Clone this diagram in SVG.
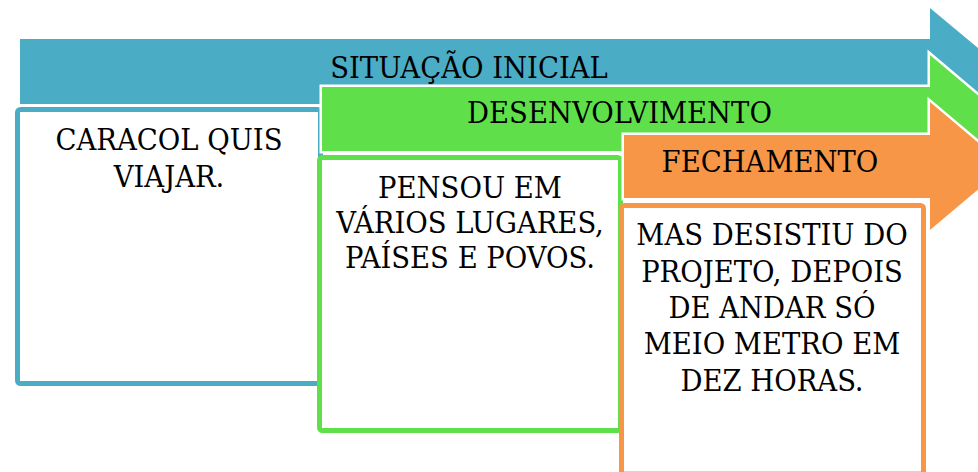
<svg xmlns="http://www.w3.org/2000/svg" width="978" height="472" viewBox="0 0 978 472">
<style>
.arrow{stroke:#fff;stroke-width:5;stroke-linejoin:miter;paint-order:stroke}
.box{fill:#fff;stroke-width:5}
.t{font-family:"DejaVu Serif Condensed","DejaVu Serif",serif;font-stretch:condensed;font-size:30.5px;fill:#000;text-anchor:middle}
</style>
<rect width="978" height="472" fill="#fff"/>
<g id="stage1">
<path class="arrow" fill="#4BACC6" d="M20,39 H930 V8 L1006,71.5 L930,135 V104 H20 Z"/>
<text class="t" x="469" y="78">SITUAÇÃO INICIAL</text>
<rect class="box" stroke="#4BACC6" x="17.5" y="109.5" width="303" height="274" rx="3"/>
<text class="t" x="169" y="150">CARACOL QUIS</text>
<text class="t" x="169" y="187">VIAJAR.</text>
</g>
<g id="stage2">
<path class="arrow" fill="#5FE04A" d="M322,87 H930 V55 L1006,119.25 L930,183.5 V151 H322 Z"/>
<text class="t" x="619.5" y="123">DESENVOLVIMENTO</text>
<rect class="box" stroke="#5FE04A" x="319.5" y="157.5" width="301" height="273" rx="3"/>
<text class="t" x="470" y="198">PENSOU EM</text>
<text class="t" x="470" y="233">VÁRIOS LUGARES,</text>
<text class="t" x="470" y="268">PAÍSES E POVOS.</text>
</g>
<g id="stage3">
<path class="arrow" fill="#F79646" d="M624,135 H930 V102 L1006,166 L930,230 V198 H624 Z"/>
<text class="t" x="770" y="172">FECHAMENTO</text>
<rect class="box" stroke="#F79646" x="621.5" y="205.5" width="302" height="268.5" rx="3"/>
<text class="t" x="772" y="245">MAS DESISTIU DO</text>
<text class="t" x="772" y="282">PROJETO, DEPOIS</text>
<text class="t" x="772" y="318">DE ANDAR SÓ</text>
<text class="t" x="772" y="354">MEIO METRO EM</text>
<text class="t" x="772" y="391">DEZ HORAS.</text>
</g>
<g id="connectors"></g>
</svg>
